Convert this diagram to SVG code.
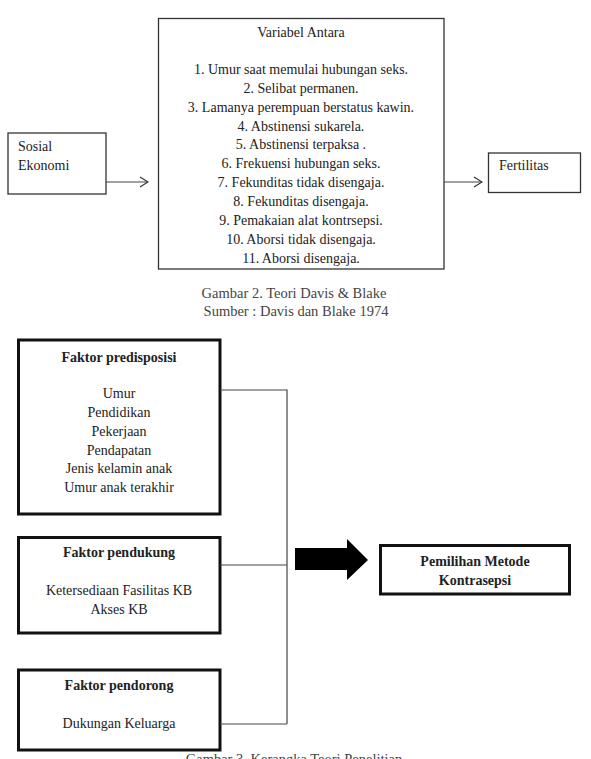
<svg xmlns="http://www.w3.org/2000/svg" width="591" height="759" viewBox="0 0 591 759">
<defs>
<style>
text{font-family:"Liberation Serif","DejaVu Serif",serif;fill:#222;}
.t{font-size:14px;}
.s{font-size:14px;}
.c{text-anchor:middle;}
.b{font-weight:bold;}
.cap{font-size:14.5px;fill:#444;text-anchor:middle;}
.box1{fill:#fff;stroke:#333;stroke-width:1.3;}
.box2{fill:#fff;stroke:#111;stroke-width:3;}
.ln{fill:none;stroke:#444;stroke-width:1.2;}
</style>
<marker id="open" markerWidth="10" markerHeight="12" refX="9" refY="6" orient="auto" markerUnits="userSpaceOnUse">
<path d="M1,1 L9,6 L1,11" fill="none" stroke="#333" stroke-width="1.2"/>
</marker>
</defs>

<g id="sosial-ekonomi">
<rect class="box1" x="8" y="133" width="98" height="61"/>
<text class="t" x="18" y="151">Sosial</text>
<text class="t" x="18" y="170">Ekonomi</text>
</g>

<g id="variabel-antara">
<rect class="box1" x="158.5" y="18.5" width="285.5" height="250.5"/>
<text class="t c" x="301" y="37">Variabel Antara</text>
<text class="t c" x="301" y="74">1. Umur saat memulai hubungan seks.</text>
<text class="t c" x="301" y="93">2. Selibat permanen.</text>
<text class="t c" x="301" y="112">3. Lamanya perempuan berstatus kawin.</text>
<text class="t c" x="301" y="131">4. Abstinensi sukarela.</text>
<text class="t c" x="301" y="149">5. Abstinensi terpaksa .</text>
<text class="t c" x="301" y="168">6. Frekuensi hubungan seks.</text>
<text class="t c" x="301" y="187">7. Fekunditas tidak disengaja.</text>
<text class="t c" x="301" y="206">8. Fekunditas disengaja.</text>
<text class="t c" x="301" y="225">9. Pemakaian alat kontrsepsi.</text>
<text class="t c" x="301" y="244">10. Aborsi tidak disengaja.</text>
<text class="t c" x="301" y="263">11. Aborsi disengaja.</text>
</g>

<g id="fertilitas">
<rect class="box1" x="488.5" y="153" width="92" height="39.5"/>
<text class="t" x="499" y="170">Fertilitas</text>
</g>

<g id="connectors-top">
<line class="ln" x1="106" y1="182" x2="148" y2="182" marker-end="url(#open)"/>
<line class="ln" x1="444" y1="182" x2="482" y2="182" marker-end="url(#open)"/>
</g>

<g id="caption-2">
<text class="cap" x="294" y="298">Gambar 2. Teori Davis &amp; Blake</text>
<text class="cap" x="296" y="316">Sumber : Davis dan Blake 1974</text>
</g>

<g id="faktor-predisposisi">
<rect class="box2" x="18.5" y="340" width="201.5" height="174"/>
<text class="s c b" x="119" y="362">Faktor predisposisi</text>
<text class="s c" x="119" y="398">Umur</text>
<text class="s c" x="119" y="417">Pendidikan</text>
<text class="s c" x="119" y="436">Pekerjaan</text>
<text class="s c" x="119" y="455">Pendapatan</text>
<text class="s c" x="119" y="473">Jenis kelamin anak</text>
<text class="s c" x="119" y="492">Umur  anak terakhir</text>
</g>

<g id="faktor-pendukung">
<rect class="box2" x="18.5" y="537.5" width="201.5" height="95.5"/>
<text class="s c b" x="119" y="557">Faktor pendukung</text>
<text class="s c" x="119" y="595">Ketersediaan Fasilitas KB</text>
<text class="s c" x="119" y="614">Akses KB</text>
</g>

<g id="faktor-pendorong">
<rect class="box2" x="18.5" y="670" width="201.5" height="80"/>
<text class="s c b" x="119" y="690">Faktor pendorong</text>
<text class="s c" x="119" y="728">Dukungan Keluarga</text>
</g>

<g id="pemilihan-metode">
<rect class="box2" x="380.5" y="545.5" width="189" height="48.5"/>
<text class="s c b" x="475" y="566">Pemilihan Metode</text>
<text class="s c b" x="475" y="585">Kontrasepsi</text>
</g>

<g id="connectors-bottom">
<path class="ln" d="M220,390 H287 V724"/>
<line class="ln" x1="220" y1="565" x2="287" y2="565"/>
<line class="ln" x1="220" y1="724" x2="287" y2="724"/>
<polygon points="295,548 347,548 347,539 368,560 347,580 347,570 295,570" fill="#000"/>
</g>

<g id="caption-3">
<text class="cap" x="294" y="764">Gambar 3. Kerangka Teori Penelitian</text>
</g>
</svg>
